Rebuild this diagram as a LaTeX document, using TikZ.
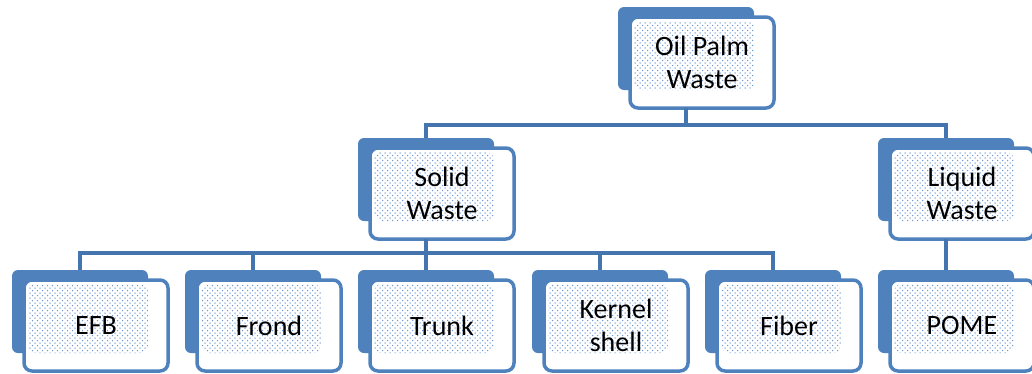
\documentclass[tikz,border=0pt]{standalone}
\usepackage{fontspec}
\setmainfont{Carlito}
\usetikzlibrary{patterns}

\definecolor{boxblue}{HTML}{4F81BD}
\definecolor{linkblue}{HTML}{4475AE}
\definecolor{dotblue}{HTML}{6F98D0}

% staggered dot texture for the panel faces
\pgfdeclarepatternformonly{paneldots}{\pgfqpoint{-1pt}{-1pt}}{\pgfqpoint{6pt}{6pt}}{\pgfqpoint{5pt}{5pt}}{%
  \pgfpathcircle{\pgfqpoint{0pt}{0pt}}{0.75pt}%
  \pgfpathcircle{\pgfqpoint{2.5pt}{2.5pt}}{0.75pt}%
  \pgfusepath{fill}%
}

\tikzset{
  backbox/.style={fill=boxblue, draw=none, rounded corners=6pt,
    minimum width=136pt, minimum height=83pt, inner sep=0pt, outer sep=0pt,
    anchor=north west},
  frontbox/.style={fill=white, draw=boxblue, line width=3.5pt, rounded corners=8pt,
    minimum width=144pt, minimum height=91pt, inner sep=0pt, outer sep=0pt,
    anchor=north west, align=center,
    font=\fontsize{28}{33}\selectfont,
    path picture={\fill[pattern=paneldots, pattern color=dotblue]
      ([shift={(4pt,-4pt)}]path picture bounding box.north west) rectangle
      ([shift={(124pt,-73pt)}]path picture bounding box.north west);}},
  link/.style={draw=linkblue, line width=4pt}
}

% a shadowed box: back panel #1 at (#2,#3), front panel #1F with text #4
\newcommand\wastebox[4]{%
  \node[backbox] (#1) at (#2,#3) {};
  \node[frontbox] (#1F) at (#2+12,#3+10) {#4};
}

\begin{document}
\begin{tikzpicture}[x=1pt,y=-1pt]
  \useasboundingbox (0,0) rectangle (1032,373);

  \wastebox{top}{618}{7}{Oil Palm\\Waste}
  \wastebox{solid}{358}{138}{Solid\\Waste}
  \wastebox{liquid}{878}{138}{Liquid\\Waste}

  \wastebox{efb}{12}{270}{EFB}
  \wastebox{frond}{185}{270}{Frond}
  \wastebox{trunk}{358}{270}{Trunk}
  \wastebox{kernel}{532}{270}{Kernel\\shell}
  \wastebox{fiber}{705}{270}{Fiber}
  \wastebox{pome}{878}{270}{POME}

  % bus lines
  \coordinate (bus1) at (0,124.5);
  \coordinate (bus2) at (0,253);

  \draw[link] (top |- topF.south) -- (top |- bus1) -| (solid.north);
  \draw[link] (top |- bus1) -| (liquid.north);

  \draw[link] (solid |- solidF.south) -- (solid |- bus2) -| (efb.north);
  \draw[link] (solid |- bus2) -| (frond.north);
  \draw[link] (solid |- bus2) -- (trunk.north);
  \draw[link] (solid |- bus2) -| (kernel.north);
  \draw[link] (solid |- bus2) -| (fiber.north);

  \draw[link] (liquid |- liquidF.south) -- (pome.north);
\end{tikzpicture}
\end{document}
